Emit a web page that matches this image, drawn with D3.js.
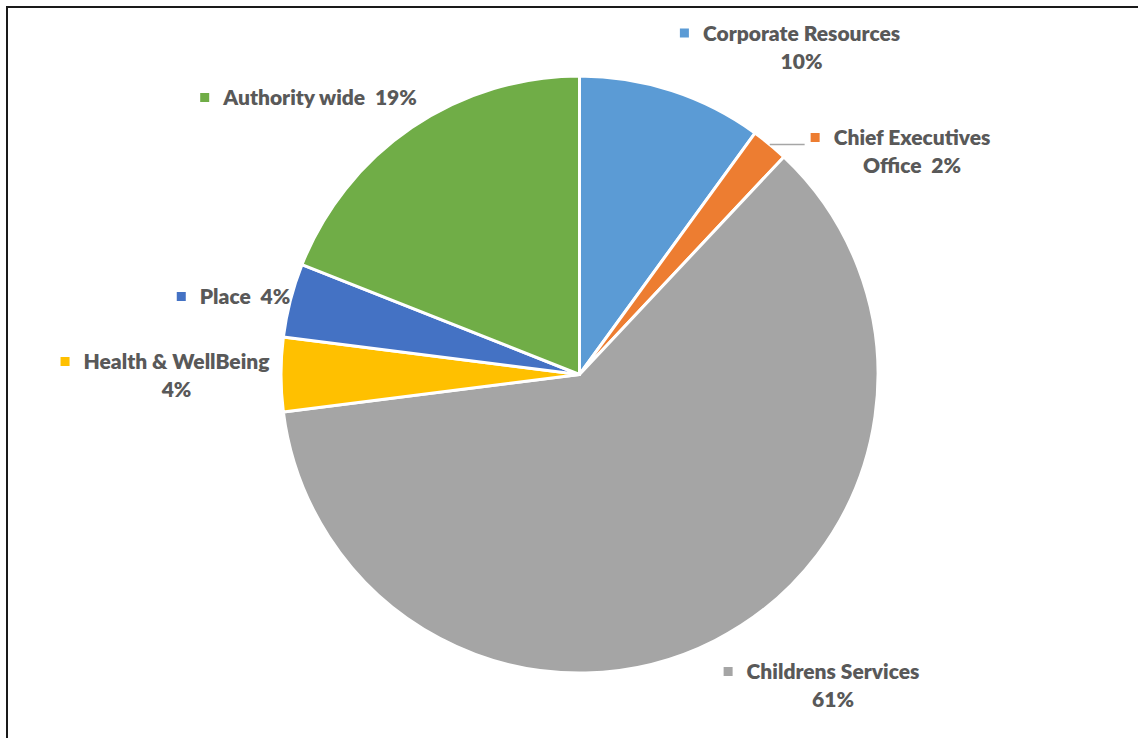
<!DOCTYPE html>
<html>
<head>
<meta charset="utf-8">
<script src="https://cdn.jsdelivr.net/npm/d3@7"></script>
<style>
  html, body { margin: 0; padding: 0; background: #fff; }
  svg { display: block; }
  text { font-family: Lato, "Open Sans", sans-serif; font-weight: 800; fill: #595959; white-space: pre; }
</style>
</head>
<body>
<svg id="chart" width="1138" height="738"></svg>
<script>
// Budget share by directorate (percent), clockwise from 12 o'clock
const categories = ["Corporate Resources", "Chief Executives Office", "Childrens Services", "Health & WellBeing", "Place", "Authority wide"];
const values = [10, 2, 61, 4, 4, 19];
const colors = ["#5B9BD5", "#ED7D31", "#A5A5A5", "#FFC000", "#4472C4", "#70AD47"];

// Label text split into lines (first line carries the legend key)
const labelLines = [
  ["Corporate Resources", "10%"],
  ["Chief Executives", "Office  2%"],
  ["Childrens Services", "61%"],
  ["Health & WellBeing", "4%"],
  ["Place  4%"],
  ["Authority wide  19%"]
];
// Label anchor (text centre, first baseline) relative to pie centre
const labelOffsets = [
  [222, -334], [332.5, -229.5], [253.5, 304.5], [-403, -5.5], [-334.5, -70.5], [-259.5, -269.5]
];
const leaderFor = [false, true, false, false, false, false];

const svg = d3.select("#chart");
const W = 1138, H = 738;
const cx = 579.5, cy = 374.5, R = 298.5;

// Frame (top and left edges)
svg.append("path")
  .attr("d", `M7,${H} L7,7 L${W},7`)
  .attr("fill", "none")
  .attr("stroke", "#1a1a1a")
  .attr("stroke-width", 2);

const data = categories.map((c, i) => ({ name: c, value: values[i], color: colors[i], i }));

const pie = d3.pie().value(d => d.value).sort(null);
const arcs = pie(data);
const arc = d3.arc().innerRadius(0).outerRadius(R);

const g = svg.append("g").attr("transform", `translate(${cx},${cy})`);

g.selectAll("path.slice")
  .data(arcs)
  .join("path")
  .attr("class", "slice")
  .attr("d", arc)
  .attr("fill", d => d.data.color)
  .attr("stroke", "#fff")
  .attr("stroke-width", 3)
  .attr("stroke-linejoin", "round");

const lineH = 28;
const keySize = 9;

arcs.forEach((a, i) => {
  const [ox, oy] = labelOffsets[i];
  const lines = labelLines[i];
  const lg = g.append("g");
  const texts = lines.map((t, k) =>
    lg.append("text")
      .attr("x", ox)
      .attr("y", oy + k * lineH)
      .attr("text-anchor", "middle")
      .attr("font-size", 21)
      .text(t)
  );
  const w0 = texts[0].node().getComputedTextLength();
  const left = ox - w0 / 2;
  lg.append("rect")
    .attr("x", left - 23)
    .attr("y", oy - 12)
    .attr("width", keySize)
    .attr("height", keySize)
    .attr("fill", a.data.color);

  if (leaderFor[i]) {
    const mid = (a.startAngle + a.endAngle) / 2;
    const px = R * Math.sin(mid), py = -R * Math.cos(mid);
    g.append("line")
      .attr("x1", px).attr("y1", py)
      .attr("x2", left - 29).attr("y2", py)
      .attr("stroke", "#A6A6A6")
      .attr("stroke-width", 1.5);
  }
});
</script>
</body>
</html>
